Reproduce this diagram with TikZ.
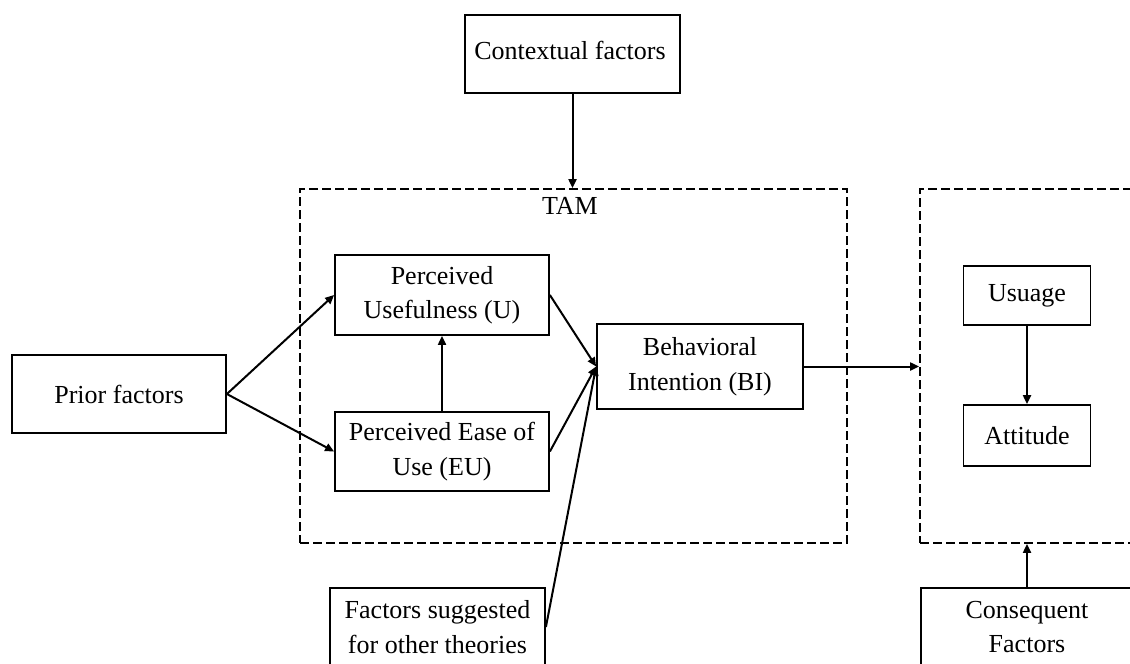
\documentclass[tikz,border=0pt]{standalone}
\usepackage{fontspec}
\setmainfont{Liberation Serif}
\usetikzlibrary{arrows.meta}
\begin{document}
\begin{tikzpicture}[x=1pt,y=-1pt,
  font=\fontsize{26}{34.5}\selectfont,
  box/.style={draw, line width=1.8pt, inner sep=0pt, align=center},
  dbox/.style={draw, line width=1.8pt, dash pattern=on 9pt off 4pt, inner sep=0pt},
  txt/.style={inner sep=0pt, align=center},
  link/.style={line width=2pt, -{Triangle[length=9pt,width=8pt]}},
]
\useasboundingbox (0,0) rectangle (1130,664);

% dashed groups
\node[dbox, minimum width=547pt, minimum height=354pt] (tam) at (573.5,366) {};
\node[txt] (tamlbl) at (570,206) {TAM};
\node[dbox, minimum width=215pt, minimum height=354pt] (cons) at (1027.5,366) {};

% boxes
\node[box, minimum width=215pt, minimum height=78pt] (ctx) at (572.5,54) {};
\node[txt] (ctxtxt) at (570,50) {Contextual factors};
\node[box, minimum width=214pt, minimum height=78pt] (prior) at (119,394) {Prior factors};
\node[box, minimum width=214pt, minimum height=80pt] (pu) at (442,295) {Perceived\\Usefulness (U)};
\node[box, minimum width=214pt, minimum height=79pt] (peu) at (442,451.5) {Perceived Ease of\\Use (EU)};
\node[box, minimum width=206pt, minimum height=85pt] (bi) at (700,366.5) {Behavioral\\Intention (BI)};
\node[box, minimum width=127pt, minimum height=59pt] (use) at (1027,295.5) {Usuage};
\node[box, minimum width=127pt, minimum height=61pt] (att) at (1027,435.5) {Attitude};
\node[box, minimum width=215pt, minimum height=78pt] (fac) at (437.5,627) {Factors suggested\\for other theories};
\node[box, minimum width=212pt, minimum height=78pt] (conf) at (1027,627) {Consequent\\Factors};

% connectors
\draw[link] (ctx.south) -- (ctx.south |- tam.north);
\draw[link] (prior.east) -- (pu.west);
\draw[link] (prior.east) -- (peu.west);
\draw[link] (peu.north) -- (pu.south);
\draw[link] (pu.east) -- (bi.west);
\draw[link] (peu.east) -- (bi.west);
\draw[link] (fac.east) -- (bi.west);
\draw[link] (bi.east) -- (bi.east -| cons.west);
\draw[link] (use.south) -- (att.north);
\draw[link] (conf.north) -- (conf.north |- cons.south);
\end{tikzpicture}
\end{document}
